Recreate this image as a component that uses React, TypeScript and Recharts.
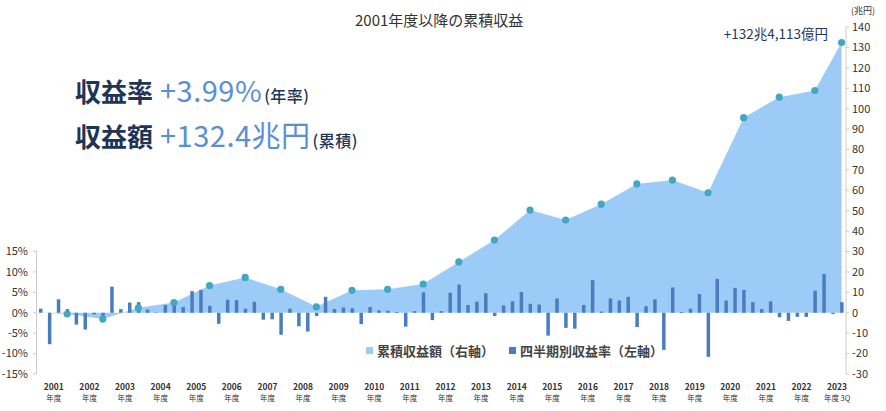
import React from "react";
import {
  ComposedChart,
  Area,
  Bar,
  Line,
  XAxis,
  YAxis,
} from "recharts";

// fiscal years shown on the x axis (2023 ends at 3Q)
const fiscalYears = [
  "2001", "2002", "2003", "2004", "2005", "2006", "2007", "2008",
  "2009", "2010", "2011", "2012", "2013", "2014", "2015", "2016",
  "2017", "2018", "2019", "2020", "2021", "2022", "2023",
];

// quarterly return rate (%), left axis
const quarterlyReturn = [
  1.0, -7.7, 3.3, 0.9,
  -2.9, -4.1, -0.4, -1.1,
  6.4, 0.9, 2.5, 2.6,
  0.8, 0.1, 1.9, 2.0,
  1.4, 5.3, 5.6, 1.7,
  -2.7, 3.2, 3.1, 1.0,
  2.7, -1.7, -1.6, -5.4,
  1.0, -3.3, -4.6, -0.8,
  3.9, 0.9, 1.3, 1.1,
  -2.8, 1.4, 0.6, 0.5,
  0.2, -3.4, 0.4, 5.0,
  -1.8, 0.4, 4.9, 6.9,
  1.9, 2.7, 4.8, -0.8,
  1.8, 2.8, 5.1, 2.2,
  2.0, -5.6, 3.5, -3.7,
  -3.9, 1.9, 8.0, 0.3,
  3.5, 3.0, 3.9, -3.5,
  1.6, 3.3, -9.1, 6.2,
  0.2, 1.0, 4.6, -10.8,
  8.3, 3.0, 6.1, 5.6,
  2.6, 0.9, 2.8, -1.1,
  -2.0, -1.0, -1.0, 5.4,
  9.5, -0.3, 2.6,
];

// cumulative return (兆円) at each fiscal year end, right axis
const cumulativeAtYearEnd = [
  -0.6, -3.1, 2.4, 5.0, 13.3, 17.3, 11.5, 2.9, 11.0, 11.5, 14.1, 24.9,
  35.6, 50.3, 45.4, 53.2, 63.1, 65.0, 58.8, 95.6, 105.6, 108.9, 132.4,
];

const leftTicks = [-15, -10, -5, 0, 5, 10, 15];
const rightTicks = [-30, -20, -10, 0, 10, 20, 30, 40, 50, 60, 70, 80, 90, 100, 110, 120, 130, 140];

const NAVY = "#1f3556";
const LIGHT = "#5a8fd4";
const AREA = "#9dcbf8";
const BAR = "#4a7dbf";
const DOT = "#42a7c3";
const FONT = "'Noto Sans CJK JP', 'Noto Sans', sans-serif";

const rows = quarterlyReturn.map((ret, i) => {
  const yi = Math.floor(i / 4);
  const q = (i % 4) + 1;
  const yearEnd = q === 4 || i === quarterlyReturn.length - 1;
  const cum = yearEnd ? cumulativeAtYearEnd[yi] : null;
  return {
    q: `${fiscalYears[yi]}Q${q}`,
    ret,
    cum: i === 0 ? 0 : cum,
    dot: cum,
  };
});

const tickKeys = fiscalYears.map((y) => `${y}Q2`);

function YearTick(props: any) {
  const { x, y, payload } = props;
  const year = String(payload.value).slice(0, 4);
  const last = year === fiscalYears[fiscalYears.length - 1];
  return (
    <g transform={`translate(${x + 4.45},${y})`}>
      <text textAnchor="middle" y={8} fontSize={8.5} fontWeight={600} fill="#333" fontFamily={FONT}>
        {year}
      </text>
      <text textAnchor="middle" y={19} fontSize={7.5} fill="#333" fontFamily={FONT}>
        {last ? "年度 3Q" : "年度"}
      </text>
    </g>
  );
}

export default function App() {
  return (
    <div style={{ position: "absolute", left: 0, top: 0, width: 886, height: 411, fontFamily: FONT }}>
      <ComposedChart
        width={886}
        height={411}
        data={rows}
        margin={{ top: 27, right: 0, bottom: 0, left: 0 }}
        barCategoryGap={0}
      >
        <XAxis
          dataKey="q"
          ticks={tickKeys}
          interval={0}
          axisLine={false}
          tickLine={false}
          height={37}
          tick={<YearTick />}
        />
        <YAxis
          yAxisId="left"
          domain={[-15, 70]}
          ticks={leftTicks}
          width={36}
          axisLine={false}
          tickSize={3}
          tickMargin={5}
          tickLine={{ stroke: "#ccc" }}
          tickFormatter={(v: number) => `${v}%`}
          tick={{ fontSize: 11, fill: "#333", fontFamily: FONT }}
        />
        <YAxis
          yAxisId="right"
          orientation="right"
          domain={[-30, 140]}
          ticks={rightTicks}
          interval={0}
          width={40}
          axisLine={{ stroke: "#ccc" }}
          tickSize={3}
          tickMargin={3}
          tickLine={{ stroke: "#ccc" }}
          tick={{ fontSize: 11, fill: "#333", fontFamily: FONT, textAnchor: "start" }}
        />
        <Area
          yAxisId="right"
          dataKey="cum"
          type="linear"
          fill={AREA}
          fillOpacity={1}
          stroke="none"
          connectNulls
          dot={false}
          activeDot={false}
          isAnimationActive={false}
        />
        <Bar yAxisId="left" dataKey="ret" fill={BAR} barSize={3.5} isAnimationActive={false} />
        <Line
          yAxisId="right"
          dataKey="dot"
          stroke="none"
          dot={{ r: 3.6, fill: DOT, stroke: "none" }}
          activeDot={false}
          isAnimationActive={false}
        />
      </ComposedChart>

      {/* left axis line only spans the -15%..15% range */}
      <div style={{ position: "absolute", left: 35.5, top: 251, width: 1, height: 123, background: "#ccc" }} />

      <div style={{ position: "absolute", left: 355, top: 9, fontSize: 15, color: "#333", whiteSpace: "nowrap" }}>
        2001年度以降の累積収益
      </div>
      <div style={{ position: "absolute", left: 851, top: 4, fontSize: 9, color: "#333" }}>(兆円)</div>
      <div style={{ position: "absolute", right: 886 - 828, top: 23, fontSize: 13.5, color: "#23395e", whiteSpace: "nowrap" }}>
        +132兆4,113億円
      </div>

      <div style={{ position: "absolute", left: 75, top: 75, whiteSpace: "nowrap", lineHeight: 1 }}>
        <span style={{ fontSize: 26, fontWeight: 700, color: NAVY }}>収益率</span>
        <span style={{ fontSize: 29, color: LIGHT, marginLeft: 7, letterSpacing: 0.5 }}>+3.99%</span>
        <span style={{ fontSize: 16, color: NAVY, fontWeight: 500, marginLeft: 2, letterSpacing: 0.5 }}>(年率)</span>
      </div>
      <div style={{ position: "absolute", left: 75, top: 120, whiteSpace: "nowrap", lineHeight: 1 }}>
        <span style={{ fontSize: 26, fontWeight: 700, color: NAVY }}>収益額</span>
        <span style={{ fontSize: 29, color: LIGHT, marginLeft: 7, letterSpacing: 0.5 }}>+132.4兆円</span>
        <span style={{ fontSize: 16, color: NAVY, fontWeight: 500, marginLeft: 2, letterSpacing: 0.5 }}>(累積)</span>
      </div>

      <div style={{ position: "absolute", left: 366, top: 341, fontSize: 13, color: "#444", fontWeight: 600, whiteSpace: "nowrap", display: "flex", alignItems: "center" }}>
        <span style={{ width: 7, height: 7, background: AREA, display: "inline-block", marginRight: 4 }} />
        <span>累積収益額（右軸）</span>
        <span style={{ width: 7, height: 7, background: BAR, display: "inline-block", marginLeft: 15, marginRight: 4 }} />
        <span>四半期別収益率（左軸）</span>
      </div>
    </div>
  );
}
